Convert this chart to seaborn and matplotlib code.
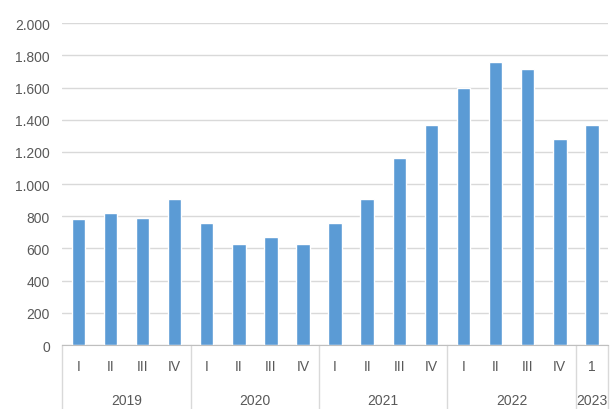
import pandas as pd
import matplotlib
matplotlib.use("Agg")
import matplotlib.pyplot as plt
import matplotlib.transforms as mtransforms
from matplotlib.ticker import FuncFormatter, MultipleLocator
import seaborn as sns

years = ["2019", "2020", "2021", "2022", "2023"]
quarters = [["I", "II", "III", "IV"],
            ["I", "II", "III", "IV"],
            ["I", "II", "III", "IV"],
            ["I", "II", "III", "IV"],
            ["1"]]
values = [[785, 822, 790, 910],
          [760, 628, 672, 628],
          [760, 908, 1162, 1365],
          [1600, 1760, 1715, 1280],
          [1365]]

rows = []
for y, qs, vs in zip(years, quarters, values):
    for q, v in zip(qs, vs):
        rows.append({"key": y + "-" + q, "year": y, "quarter": q, "value": v})
df = pd.DataFrame(rows)

sns.set_style("white")
plt.rcParams["font.family"] = ["Liberation Sans", "DejaVu Sans"]
grey = "#595959"
fs = 10

fig = plt.figure(figsize=(6.11, 4.10), dpi=100)
ax = fig.add_axes([0.102, 0.156, 0.893, 0.785])

sns.barplot(data=df, x="key", y="value", color="#5B9BD5", saturation=1,
            width=0.42, ax=ax)

ax.set_ylim(0, 2000)
ax.set_xlim(-0.5, len(df) - 0.5)
ax.yaxis.set_major_locator(MultipleLocator(200))
ax.yaxis.set_major_formatter(FuncFormatter(lambda v, p: f"{v:,.0f}".replace(",", ".")))
ax.grid(axis="y", color="#D9D9D9", linewidth=1)
ax.set_axisbelow(True)
for s in ["top", "right", "left"]:
    ax.spines[s].set_visible(False)
ax.spines["bottom"].set_color("#BFBFBF")
ax.tick_params(axis="y", length=0, pad=9, labelsize=fs, labelcolor=grey)
ax.tick_params(axis="x", length=0, pad=10, labelsize=fs, labelcolor=grey)
ax.set_xticks(range(len(df)))
ax.set_xticklabels(df["quarter"])
ax.set_xlabel("")
ax.set_ylabel("")

trans = mtransforms.blended_transform_factory(ax.transData, ax.transAxes)
start = 0
bounds = [-0.5]
for y, qs in zip(years, quarters):
    n = len(qs)
    center = start + (n - 1) / 2
    ax.text(center, -0.17, y, transform=trans, ha="center", va="center",
            fontsize=fs, color=grey)
    start += n
    bounds.append(start - 0.5)
for b in bounds:
    ax.plot([b, b], [0, -0.21], transform=trans, color="#D9D9D9",
            linewidth=1, clip_on=False)

fig.savefig("out.png", dpi=100)
